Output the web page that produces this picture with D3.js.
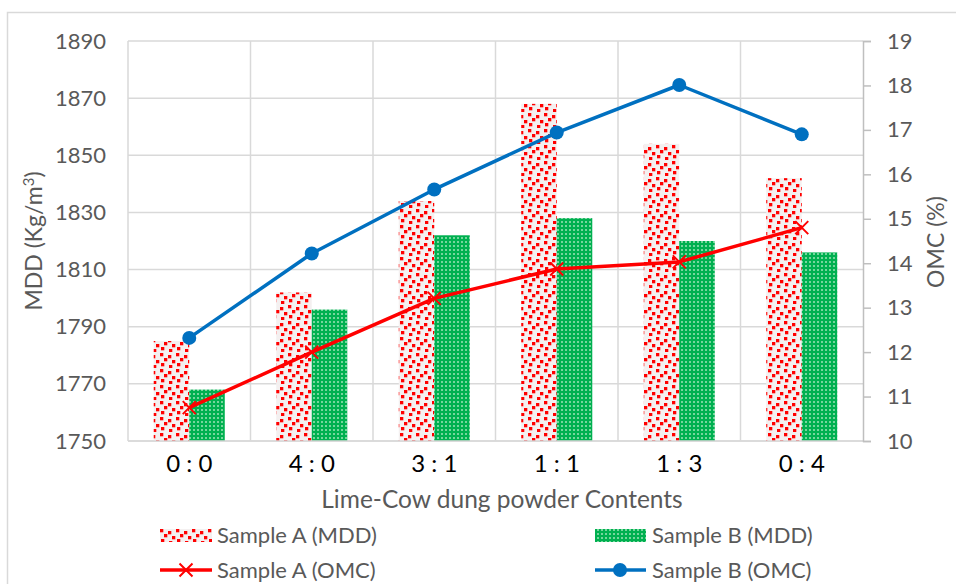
<!DOCTYPE html>
<html><head><meta charset="utf-8">
<script src="https://cdn.jsdelivr.net/npm/d3@7"></script>
<style>body{margin:0;background:#fff;}svg{display:block;font-family:Lato,"Open Sans",sans-serif;}</style>
</head><body>
<svg id="chart" width="956" height="584"></svg>
<script>
const categories = ["0 : 0","4 : 0","3 : 1","1 : 1","1 : 3","0 : 4"];
const mddA = [1785,1802,1834,1868,1854,1842];
const mddB = [1768,1796,1822,1828,1820,1816];
const omcA = [10.75,12.0,13.21,13.87,14.03,14.8];
const omcB = [12.32,14.22,15.66,16.94,18.01,16.9];
const leftTicks = [1750,1770,1790,1810,1830,1850,1870,1890];
const rightTicks = [10,11,12,13,14,15,16,17,18,19];

const svg = d3.select("#chart");
const L=128,R=863,T=41,B=441;
const grid="#d9d9d9", txt="#595959";

// patterns
const defs = svg.append("defs");
const pa = defs.append("pattern").attr("id","patA").attr("patternUnits","userSpaceOnUse").attr("width",16).attr("height",16);
pa.append("rect").attr("width",16).attr("height",16).attr("fill","#f4f0f0");
[[0,1],[8,3],[4,6],[12,8],[1,11],[9,13]].forEach(([x,y])=>{
  pa.append("rect").attr("x",x).attr("y",y).attr("width",3.3).attr("height",3.3).attr("fill","#ff0000");
});
const pb = defs.append("pattern").attr("id","patB").attr("patternUnits","userSpaceOnUse").attr("width",4).attr("height",4);
pb.append("rect").attr("width",4).attr("height",4).attr("fill","#00b050");
pb.append("rect").attr("x",1.2).attr("y",1.2).attr("width",1.6).attr("height",1.6).attr("fill","#b8ecc8");

// outer border
svg.append("rect").attr("x",7.5).attr("y",12.5).attr("width",1000).attr("height",1000).attr("fill","none").attr("stroke",grid).attr("stroke-width",1.5);

const x = d3.scaleBand().domain(categories).range([L,R]).paddingInner(0.42).paddingOuter(0.21);
const xs = d3.scaleBand().domain(["A","B"]).range([0,x.bandwidth()]);
const yL = d3.scaleLinear().domain([1750,1890]).range([B,T]);
const yR = d3.scaleLinear().domain([10,19]).range([B,T]);

// horizontal gridlines
svg.append("g").selectAll("line").data(leftTicks).join("line")
  .attr("x1",L).attr("x2",R).attr("y1",d=>yL(d)).attr("y2",d=>yL(d))
  .attr("stroke",grid).attr("stroke-width",1.5);
// vertical gridlines at category boundaries
const step = x.step();
svg.append("g").selectAll("line").data(d3.range(categories.length)).join("line")
  .attr("x1",(d,i)=>x(categories[i])-x.paddingOuter()*step).attr("x2",(d,i)=>x(categories[i])-x.paddingOuter()*step)
  .attr("y1",T).attr("y2",B).attr("stroke",grid).attr("stroke-width",1.5);

// bars
const g = svg.append("g");
categories.forEach((c,i)=>{
  g.append("rect").attr("x",x(c)+xs("A")).attr("y",yL(mddA[i])).attr("width",xs.bandwidth()).attr("height",B-yL(mddA[i])).attr("fill","url(#patA)");
  g.append("rect").attr("x",x(c)+xs("B")).attr("y",yL(mddB[i])).attr("width",xs.bandwidth()).attr("height",B-yL(mddB[i])).attr("fill","url(#patB)");
});

// bottom axis line
svg.append("line").attr("x1",L).attr("x2",R).attr("y1",B).attr("y2",B).attr("stroke",grid).attr("stroke-width",1.5);
// right axis
const rAxis = svg.append("g").attr("transform",`translate(${R},0)`)
  .call(d3.axisRight(yR).tickValues(rightTicks).tickSize(8).tickPadding(16).tickFormat(d3.format("d")));
rAxis.select(".domain").attr("stroke","#bfbfbf").attr("stroke-width",1.5);
rAxis.selectAll(".tick line").attr("stroke","#bfbfbf").attr("stroke-width",1.5);
rAxis.selectAll("text").attr("fill",txt).attr("font-size",22).attr("font-family","Lato");
// left axis
const lAxis = svg.append("g").attr("transform",`translate(${L},0)`)
  .call(d3.axisLeft(yL).tickValues(leftTicks).tickSize(0).tickPadding(22).tickFormat(d3.format("d")));
lAxis.select(".domain").remove();
lAxis.selectAll("text").attr("fill",txt).attr("font-size",22).attr("font-family","Lato");
// category labels
const xAxis = svg.append("g").attr("transform",`translate(0,${B})`)
  .call(d3.axisBottom(x).tickSize(0).tickPadding(14));
xAxis.select(".domain").remove();
xAxis.selectAll("text").attr("fill","#000").attr("font-size",24).attr("font-family","Lato");

// lines
const cx = c => x(c)+x.bandwidth()/2;
const lineA = d3.line().x((d,i)=>cx(categories[i])).y(d=>yR(d));
svg.append("path").datum(omcA).attr("d",lineA).attr("fill","none").attr("stroke","#ff0000").attr("stroke-width",3.5).attr("stroke-linejoin","round");
svg.append("path").datum(omcB).attr("d",lineA).attr("fill","none").attr("stroke","#0070c0").attr("stroke-width",3.5).attr("stroke-linejoin","round");
const s=6.5;
svg.append("g").selectAll("path").data(omcA).join("path")
  .attr("d",(d,i)=>{const px=cx(categories[i]),py=yR(d);return `M${px-s},${py-s}L${px+s},${py+s}M${px-s},${py+s}L${px+s},${py-s}`;})
  .attr("stroke","#ff0000").attr("stroke-width",2).attr("fill","none");
svg.append("g").selectAll("circle").data(omcB).join("circle")
  .attr("cx",(d,i)=>cx(categories[i])).attr("cy",d=>yR(d)).attr("r",7).attr("fill","#0070c0");

// axis titles
svg.append("text").attr("x",502).attr("y",508).attr("text-anchor","middle").attr("fill",txt).attr("font-size",24.5).text("Lime-Cow dung powder Contents");
const lt = svg.append("text").attr("transform","translate(42,241) rotate(-90)").attr("text-anchor","middle").attr("fill",txt).attr("font-size",23);
lt.append("tspan").text("MDD (Kg/m");
lt.append("tspan").attr("font-size",15).attr("dy",-8).text("3");
lt.append("tspan").attr("dy",8).text(")");
svg.append("text").attr("transform","translate(944,242) rotate(-90)").attr("text-anchor","middle").attr("fill",txt).attr("font-size",23).text("OMC (%)");

// legend
const leg = svg.append("g").attr("font-size",22).attr("fill",txt);
leg.append("rect").attr("x",160).attr("y",529).attr("width",52).attr("height",13).attr("fill","url(#patA)");
leg.append("text").attr("x",217).attr("y",543).text("Sample A (MDD)");
leg.append("rect").attr("x",595).attr("y",529).attr("width",51).attr("height",13).attr("fill","url(#patB)");
leg.append("text").attr("x",652).attr("y",543).text("Sample B (MDD)");
leg.append("line").attr("x1",160).attr("x2",212).attr("y1",570).attr("y2",570).attr("stroke","#ff0000").attr("stroke-width",3.5);
leg.append("path").attr("d",`M${186-s},${570-s}L${186+s},${570+s}M${186-s},${570+s}L${186+s},${570-s}`).attr("stroke","#ff0000").attr("stroke-width",2);
leg.append("text").attr("x",217).attr("y",578).text("Sample A (OMC)");
leg.append("line").attr("x1",595).attr("x2",646).attr("y1",570).attr("y2",570).attr("stroke","#0070c0").attr("stroke-width",3.5);
leg.append("circle").attr("cx",620).attr("cy",570).attr("r",7).attr("fill","#0070c0");
leg.append("text").attr("x",652).attr("y",578).text("Sample B (OMC)");
</script>
</body></html>
